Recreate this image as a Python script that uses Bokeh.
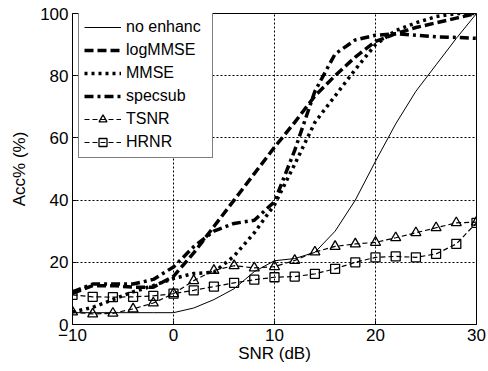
from bokeh.plotting import figure
from bokeh.models import Legend, LegendItem, FixedTicker, Range1d
from bokeh.embed import file_html
from bokeh.resources import INLINE

snr = [-10, -8, -6, -4, -2, 0, 2, 4, 6, 8, 10, 12, 14, 16, 18, 20, 22, 24, 26, 28, 30]
no_enhanc = [3.8, 3.8, 3.8, 3.8, 3.8, 3.8, 5.3, 8.0, 11.5, 17.0, 20.5, 21.2, 23.2, 30.0, 40.0, 52.5, 64.5, 75.0, 83.5, 92.0, 100.0]
logmmse = [10.0, 12.5, 12.5, 12.0, 12.0, 15.5, 23.0, 31.5, 40.0, 48.5, 57.0, 65.0, 73.5, 80.0, 86.0, 91.0, 93.5, 95.5, 97.0, 98.5, 100.0]
mmse = [4.0, 5.5, 8.0, 10.5, 12.5, 14.8, 16.4, 16.8, 22.0, 29.5, 38.5, 51.5, 65.0, 73.5, 82.0, 90.0, 94.5, 97.0, 99.0, 100.0, 100.0]
specsub = [10.5, 13.0, 13.0, 13.0, 14.5, 18.5, 25.0, 30.0, 32.5, 33.5, 39.5, 56.0, 75.0, 87.0, 91.5, 93.0, 93.5, 93.0, 92.5, 92.3, 92.0]
tsnr = [4.0, 3.4, 3.6, 5.0, 6.9, 9.9, 14.1, 17.4, 18.9, 18.2, 18.6, 20.6, 23.3, 25.1, 25.9, 26.4, 27.9, 29.5, 31.1, 32.7, 32.9]
hrnr = [9.5, 8.9, 8.8, 8.9, 9.2, 9.9, 11.0, 12.2, 13.4, 14.4, 15.2, 15.4, 16.3, 17.9, 20.0, 21.6, 21.9, 21.6, 22.7, 25.9, 32.7]

x_ticks = [-10, 0, 10, 20, 30]
y_ticks = [0, 20, 40, 60, 80, 100]
labels = ["no enhanc", "logMMSE", "MMSE", "specsub", "TSNR", "HRNR"]

FONT = "Liberation Sans"

p = figure(frame_width=404, frame_height=311,
           x_range=Range1d(-10, 30), y_range=Range1d(0, 100),
           output_backend="svg", toolbar_location=None,
           min_border_left=72, min_border_right=10, min_border_top=13, min_border_bottom=45)

p.xaxis.ticker = FixedTicker(ticks=x_ticks)
p.yaxis.ticker = FixedTicker(ticks=y_ticks)
for g in (p.xgrid, p.ygrid):
    g.grid_line_color = "black"
    g.grid_line_dash = "2 2"
    g.grid_line_width = 1
    g.grid_line_alpha = 1

p.outline_line_color = "black"
p.outline_line_width = 1
p.outline_line_alpha = 1

for ax in (p.xaxis, p.yaxis):
    ax.axis_line_color = "black"
    ax.major_tick_in = 4
    ax.major_tick_out = 0
    ax.major_tick_line_color = "black"
    ax.minor_tick_line_color = None
    ax.major_label_text_font = FONT
    ax.major_label_text_font_size = "17px"
    ax.major_label_text_color = "black"
    ax.axis_label_text_font = FONT
    ax.axis_label_text_font_size = "17px"
    ax.axis_label_text_font_style = "normal"
    ax.axis_label_text_color = "black"
    ax.major_label_standoff = 4

p.xaxis.axis_label = "SNR (dB)"
p.yaxis.axis_label = "Acc% (%)"
p.xaxis.axis_label_standoff = 0
p.yaxis.axis_label_standoff = 8

r1 = p.line(snr, no_enhanc, line_color="black", line_width=1)
r2 = p.line(snr, logmmse, line_color="black", line_width=3.5, line_dash="9 4")
r3 = p.line(snr, mmse, line_color="black", line_width=3.5, line_dash="3 4")
r4 = p.line(snr, specsub, line_color="black", line_width=3.5, line_dash="9 4 3 4")
r5 = p.line(snr, tsnr, line_color="black", line_width=1.2, line_dash="5 3")
r5m = p.scatter(snr, tsnr, marker="triangle", size=10, line_color="black", line_width=1.3, fill_alpha=0)
r6 = p.line(snr, hrnr, line_color="black", line_width=1.2, line_dash="5 3")
r6m = p.scatter(snr, hrnr, marker="square", size=9, line_color="black", line_width=1.3, fill_alpha=0)

items = [
    LegendItem(label=labels[0], renderers=[r1]),
    LegendItem(label=labels[1], renderers=[r2]),
    LegendItem(label=labels[2], renderers=[r3]),
    LegendItem(label=labels[3], renderers=[r4]),
    LegendItem(label=labels[4], renderers=[r5, r5m]),
    LegendItem(label=labels[5], renderers=[r6, r6m]),
]
legend = Legend(items=items, location=(6, 166), margin=0, padding=5, spacing=3,
                glyph_width=37, glyph_height=20, label_height=20, label_width=81,
                label_standoff=5, label_text_font=FONT, label_text_font_size="16px",
                label_text_color="black", border_line_color="black", border_line_width=1,
                background_fill_color="white", background_fill_alpha=1)
p.add_layout(legend)

open("out.html", "w").write(file_html(p, INLINE))
